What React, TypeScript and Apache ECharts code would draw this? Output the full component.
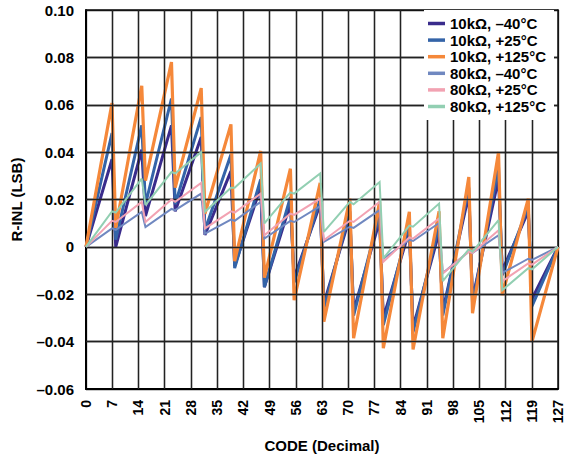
import React, { useEffect, useRef } from "react";
import * as echarts from "echarts";

// Vertex codes (start and end code of every 8-code segment)
const CODES = [0, 7, 8, 15, 16, 23, 24, 31, 32, 39, 40, 47, 48, 55, 56, 63, 64, 71, 72, 79, 80, 87, 88, 95, 96, 103, 104, 111, 112, 119, 120, 127];

const R10K_M40 = [0, 0.037, 0.0, 0.041, 0.013, 0.0513, 0.015, 0.0464, 0.005, 0.032, -0.008, 0.0253, -0.017, 0.0183, -0.013, 0.018, -0.024, 0.0127, -0.027, 0.011, -0.03, 0.007, -0.034, 0.006, -0.027, 0.022, -0.022, 0.0288, -0.01, 0.015, -0.022, 0];
const R10K_P25 = [0, 0.048, 0.003, 0.0513, 0.018, 0.0626, 0.018, 0.0548, 0.007, 0.039, -0.009, 0.0285, -0.017, 0.021, -0.015, 0.02, -0.026, 0.015, -0.029, 0.014, -0.033, 0.01, -0.036, 0.009, -0.029, 0.025, -0.024, 0.0337, -0.012, 0.017, -0.025, 0];
const R10K_P125 = [0, 0.0607, 0.008, 0.068, 0.028, 0.078, 0.025, 0.067, 0.014, 0.0517, -0.006, 0.0405, -0.013, 0.033, -0.0225, 0.027, -0.0316, 0.0204, -0.0386, 0.019, -0.0428, 0.0148, -0.0433, 0.015, -0.0386, 0.0295, -0.028, 0.04, -0.0204, 0.0204, -0.04, 0];
const R80K_M40 = [0, 0.0078, 0.0072, 0.0148, 0.0084, 0.016, 0.0155, 0.0225, 0.0056, 0.0115, 0.011, 0.019, 0.0035, 0.011, 0.0105, 0.0172, 0.0021, 0.0085, 0.008, 0.0155, -0.005, 0.003, 0.0025, 0.0101, -0.011, -0.002, -0.0025, 0.0049, -0.011, -0.005, -0.0055, 0];
const R80K_P25 = [0, 0.011, 0.0105, 0.019, 0.0105, 0.02, 0.019, 0.027, 0.0078, 0.015, 0.0145, 0.0225, 0.0049, 0.014, 0.0135, 0.0204, 0.0028, 0.011, 0.0105, 0.019, -0.0063, 0.004, 0.0035, 0.012, -0.0112, -0.002, -0.0025, 0.007, -0.0145, -0.007, -0.0075, 0];
const R80K_P125 = [0, 0.015, 0.0145, 0.0288, 0.0176, 0.0316, 0.031, 0.04, 0.0148, 0.025, 0.025, 0.0352, 0.0099, 0.023, 0.0225, 0.031, 0.0063, 0.019, 0.018, 0.0274, -0.0049, 0.009, 0.0085, 0.0183, -0.0145, -0.001, -0.002, 0.0113, -0.0183, -0.009, -0.0095, 0];

// Axis tick labels: 18 equal divisions of 0..127
const X_TICK_LABELS = ["0", "7", "14", "21", "28", "35", "42", "49", "56", "63", "70", "77", "84", "91", "98", "105", "112", "119", "127"];
const Y_TICKS = [-0.06, -0.04, -0.02, 0, 0.02, 0.04, 0.06, 0.08, 0.1];

const SERIES_NAMES = ["10kΩ, –40°C", "10kΩ, +25°C", "10kΩ, +125°C", "80kΩ, –40°C", "80kΩ, +25°C", "80kΩ, +125°C"];
const SERIES_VALUES = [R10K_M40, R10K_P25, R10K_P125, R80K_M40, R80K_P25, R80K_P125];
const COLORS = ["#3a2c8c", "#3464a8", "#f5883a", "#7088c0", "#f2a2b2", "#92cfb2"];
const WIDTHS = [3, 3, 3.2, 2, 2, 2];

const FONT = "'Liberation Sans', Arial, Helvetica, sans-serif";
const X_MAX = 127;
const X_STEP = X_MAX / (X_TICK_LABELS.length - 1);

export default function App() {
  const ref = useRef<HTMLDivElement>(null);
  useEffect(() => {
    if (!ref.current) return;
    const chart = echarts.init(ref.current, undefined, { renderer: "svg" });
    const dataSeries = SERIES_NAMES.map((name, si) => ({
      name,
      type: "line",
      data: CODES.map((c, i) => [c, SERIES_VALUES[si][i]]),
      symbol: "none",
      showSymbol: false,
      color: COLORS[si],
      lineStyle: { color: COLORS[si], width: WIDTHS[si], join: "miter", miterLimit: 2.5 },
      z: si === 2 ? 4 : si < 2 ? 3 : 5,
    }));
    const gridSeries = {
      name: "grid",
      type: "line",
      data: [],
      silent: true,
      z: 1,
      markLine: {
        silent: true,
        symbol: ["none", "none"],
        label: { show: false },
        animation: false,
        lineStyle: { color: "#222", width: 1.3, type: "solid" },
        data: [
          ...X_TICK_LABELS.slice(1, -1).map((_, i) => ({ xAxis: (i + 1) * X_STEP })),
          ...Y_TICKS.slice(1, -1).map((v) => ({ yAxis: v })),
        ],
      },
    };
    chart.setOption({
      animation: false,
      backgroundColor: "#ffffff",
      textStyle: { fontFamily: FONT },
      grid: { left: 86, right: 7, top: 10, bottom: 71 },
      legend: {
        orient: "vertical",
        left: 424,
        top: 10,
        padding: [6, 8, 6, 4],
        backgroundColor: "#ffffff",
        itemGap: 1.6,
        itemWidth: 17,
        itemHeight: 3.5,
        icon: "rect",
        data: SERIES_NAMES,
        textStyle: { fontFamily: FONT, fontSize: 15, fontWeight: "bold", color: "#000", lineHeight: 15 },
        z: 10,
      },
      xAxis: [
        {
          type: "value",
          position: "bottom",
          min: 0,
          max: X_MAX,
          interval: 7.0556,
          name: "CODE (Decimal)",
          nameLocation: "middle",
          nameGap: 49,
          nameTextStyle: { fontFamily: FONT, fontSize: 15, fontWeight: "bold", color: "#000" },
          axisLine: { show: true, onZero: false, lineStyle: { color: "#000", width: 2 } },
          axisTick: { show: false },
          axisLabel: {
            rotate: 90,
            margin: 11,
            fontFamily: FONT,
            fontSize: 14,
            fontWeight: "bold",
            color: "#000",
            formatter: (v: number) => X_TICK_LABELS[Math.round(v / X_STEP)] ?? "",
          },
          splitLine: { show: true, lineStyle: { color: "#222", width: 1.3 } },
        },
        {
          type: "value",
          position: "top",
          min: 0,
          max: X_MAX,
          axisLine: { show: true, onZero: false, lineStyle: { color: "#111", width: 1.5 } },
          axisTick: { show: false },
          axisLabel: { show: false },
          splitLine: { show: false },
        },
      ],
      yAxis: [
        {
          type: "value",
          position: "left",
          min: Y_TICKS[0],
          max: Y_TICKS[Y_TICKS.length - 1],
          interval: 0.02,
          name: "R-INL (LSB)",
          nameLocation: "middle",
          nameGap: 62,
          nameTextStyle: { fontFamily: FONT, fontSize: 15, fontWeight: "bold", color: "#000" },
          axisLine: { show: true, onZero: false, lineStyle: { color: "#000", width: 2 } },
          axisTick: { show: false },
          axisLabel: {
            margin: 12,
            fontFamily: FONT,
            fontSize: 15,
            fontWeight: "bold",
            color: "#000",
            formatter: (v: number) => {
              if (Math.abs(v) < 1e-9) return "0";
              return (v < 0 ? "–" : "") + Math.abs(v).toFixed(2);
            },
          },
          splitLine: { show: true, lineStyle: { color: "#222", width: 1.3 } },
        },
        {
          type: "value",
          position: "right",
          min: Y_TICKS[0],
          max: Y_TICKS[Y_TICKS.length - 1],
          axisLine: { show: true, onZero: false, lineStyle: { color: "#111", width: 1.5 } },
          axisTick: { show: false },
          axisLabel: { show: false },
          splitLine: { show: false },
        },
      ],
      series: [gridSeries, ...dataSeries],
    });
    return () => chart.dispose();
  }, []);
  return (
    <div
      ref={ref}
      style={{ position: "fixed", left: 0, top: 0, width: 565, height: 460, background: "#fff" }}
    />
  );
}
